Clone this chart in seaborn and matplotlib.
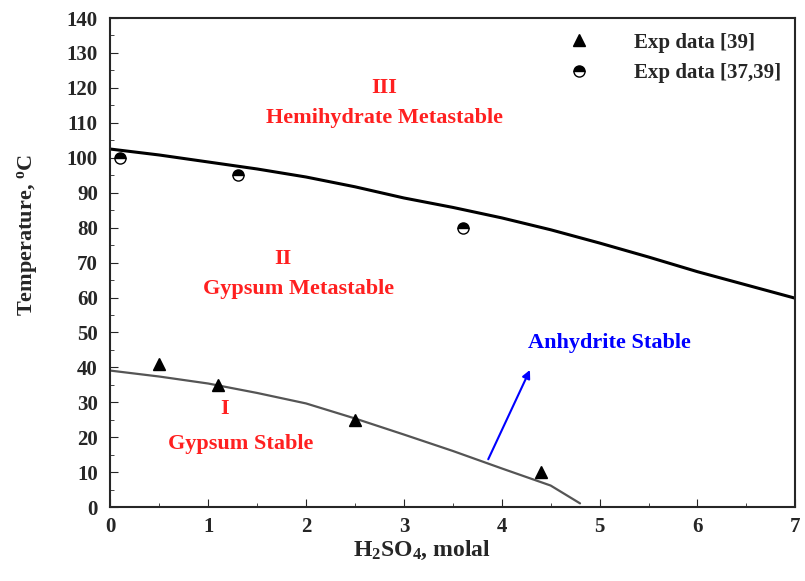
import numpy as np
import matplotlib
matplotlib.use('Agg')
import matplotlib.pyplot as plt
import seaborn as sns

# boundary curves
upper_x = [0, 0.5, 1, 1.5, 2, 2.5, 3, 3.5, 4, 4.5, 5, 5.5, 6, 6.5, 7]
upper_t = [102.5, 100.8, 98.8, 96.8, 94.5, 91.7, 88.5, 85.8, 82.8, 79.4,
           75.6, 71.6, 67.4, 63.6, 59.8]
lower_x = [0, 0.5, 1, 1.5, 2, 2.5, 3, 3.5, 4, 4.5, 4.8]
lower_t = [39.1, 37.4, 35.4, 32.7, 29.7, 25.4, 20.8, 16.1, 11.1, 6.2, 1.1]

# experimental points
tri_x = [0.5, 1.1, 2.5, 4.4]
tri_t = [41, 35, 25, 10]
circ_x = [0.1, 1.3, 3.6]
circ_t = [100, 95, 80]

sns.set_style('ticks')
plt.rcParams['font.family'] = ['Liberation Serif', 'DejaVu Serif']
plt.rcParams['font.weight'] = 'bold'
plt.rcParams['mathtext.fontset'] = 'custom'
plt.rcParams['mathtext.rm'] = 'Liberation Serif:bold'
plt.rcParams['mathtext.it'] = 'Liberation Serif:bold'
plt.rcParams['mathtext.bf'] = 'Liberation Serif:bold'
plt.rcParams['mathtext.default'] = 'rm'

fig, ax = plt.subplots(figsize=(8.05, 5.81), dpi=100)
fig.subplots_adjust(left=0.137, right=0.988, bottom=0.127, top=0.969)

sns.lineplot(x=upper_x, y=upper_t, color='black', linewidth=2.2, ax=ax)
sns.lineplot(x=lower_x, y=lower_t, color='#555555', linewidth=1.6, ax=ax)

ax.plot(tri_x, tri_t, linestyle='none', marker='^', markersize=8,
        color='black', label='Exp data [39]')
ax.plot(circ_x, circ_t, linestyle='none', marker='o', markersize=8,
        fillstyle='top', markerfacecolor='black', markerfacecoloralt='white',
        markeredgecolor='black', label='Exp data [37,39]')

ax.annotate('', xy=(4.3, 40), xytext=(3.85, 13),
            arrowprops=dict(arrowstyle='-|>', color='blue', lw=1.5,
                            mutation_scale=12))
ax.text(5.1, 47, 'Anhydrite Stable', color='blue', fontsize=16,
        fontweight='bold', ha='center', va='center')

red = '#ff2020'
fs = 16
ax.text(2.8, 120, 'III', color=red, fontsize=fs, ha='center', va='center')
ax.text(2.8, 111.5, 'Hemihydrate Metastable', color=red, fontsize=fs, ha='center', va='center')
ax.text(1.76, 71, 'II', color=red, fontsize=fs, ha='center', va='center')
ax.text(1.92, 62.5, 'Gypsum Metastable', color=red, fontsize=fs, ha='center', va='center')
ax.text(1.17, 28, 'I', color=red, fontsize=fs, ha='center', va='center')
ax.text(1.33, 18, 'Gypsum Stable', color=red, fontsize=fs, ha='center', va='center')

ax.set_xlim(0, 7)
ax.set_ylim(0, 140)
ax.set_xticks(range(0, 8))
ax.set_yticks(range(0, 141, 10))
ax.set_xticks(np.arange(0.5, 7, 1), minor=True)
ax.set_yticks(np.arange(5, 140, 10), minor=True)
ax.tick_params(direction='in', which='both', top=False, right=False, labelsize=15)
ax.tick_params(which='major', length=6)
ax.tick_params(which='minor', length=3)
ax.tick_params(axis='y', which='major', pad=9)
ax.tick_params(axis='x', which='major', pad=7)
for s in ax.spines.values():
    s.set_linewidth(1.5)

ax.set_xlabel('H$_2$SO$_4$, molal', fontsize=17, fontweight='bold')
ax.set_ylabel('Temperature, $^o$C', fontsize=16, fontweight='bold')
ax.xaxis.set_label_coords(0.455, -0.065)
ax.yaxis.set_label_coords(-0.102, 0.556)

leg = ax.legend(loc='upper right', fontsize=15, frameon=False, handletextpad=1.6,
                borderaxespad=0.3)

fig.savefig('out.png', dpi=100)
